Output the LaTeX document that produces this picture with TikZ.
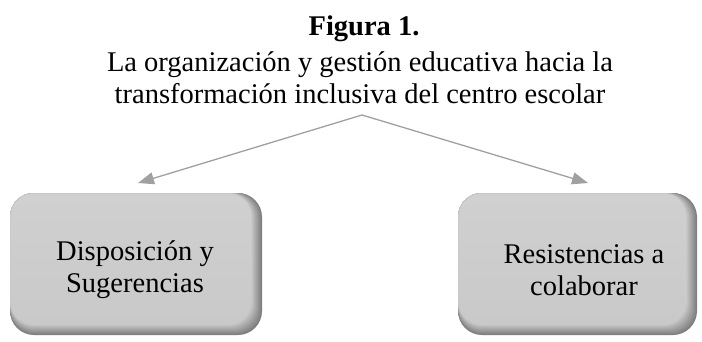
\documentclass[tikz,border=0pt]{standalone}
\usepackage{fontspec}
\setmainfont{Liberation Serif}
\usetikzlibrary{arrows.meta}
\definecolor{boxlight}{HTML}{C9C9C9}
\definecolor{boxtop}{HTML}{D0D0D0}
\definecolor{boxdark}{HTML}{7E7E7E}
\definecolor{arrowgray}{HTML}{A0A0A0}
\newcommand\bevelbox[4]{%
  \foreach \i in {0,...,10}{%
    \pgfmathtruncatemacro\pp{\i*10}%
    \fill[boxlight!\pp!boxdark, rounded corners=24pt] (#1,#2) rectangle ({#3-\i},{#4-\i});
  }%
  \shade[top color=boxtop, bottom color=boxlight, rounded corners=22pt] ({#1+1},{#2+1}) rectangle ({#3-11},{#4-11});
}
\begin{document}
\begin{tikzpicture}[x=1pt,y=-1pt,
  txt/.style={font=\fontsize{28.5}{32}\selectfont, align=center, inner sep=0pt},
  conn/.style={draw=arrowgray, line width=1.3pt, -{Triangle[length=16pt,width=12pt]}}]
\useasboundingbox (0,0) rectangle (702,341);
\node[txt, font=\fontsize{28.5}{32}\selectfont\bfseries, anchor=base] (fig) at (364,35) {Figura 1.};
\node[txt, anchor=base] (t1) at (360,71) {La organización y gestión educativa hacia la};
\node[txt, anchor=base] (t2) at (360,103) {transformación inclusiva del centro escolar};
\coordinate (src) at (362,115);
\coordinate (tipl) at (138,183);
\coordinate (tipr) at (588,183);
\bevelbox{10}{193}{262}{335}
\bevelbox{458}{193}{697}{335}
\node[txt] (bl) at (135,270) {Disposición y\\Sugerencias};
\node[txt] (br) at (584,270) {Resistencias a\\colaborar};
\draw[conn] (src) -- (tipl);
\draw[conn] (src) -- (tipr);
\end{tikzpicture}
\end{document}
